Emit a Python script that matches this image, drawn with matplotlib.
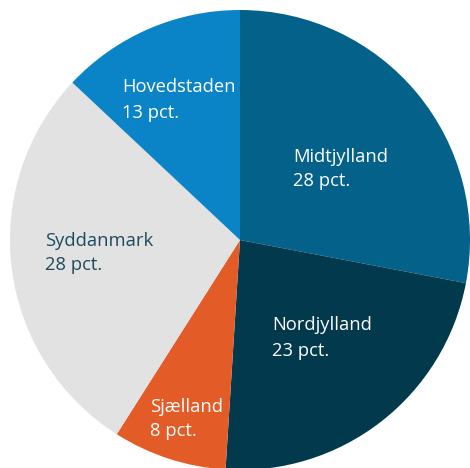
import matplotlib
matplotlib.use('Agg')
from matplotlib import pyplot as plt

# data
regions = ['Midtjylland', 'Nordjylland', 'Sjælland', 'Syddanmark', 'Hovedstaden']
shares = [28, 23, 8, 28, 13]
colors = ['#04618A', '#02394D', '#E35B27', '#E2E2E2', '#0A84C6']
text_colors = ['white', 'white', 'white', '#1E4A5C', 'white']
# label positions in pixels (left x, centre y from top)
label_pos = [(293, 169), (272, 338), (150, 419), (45, 253), (122, 100)]

fig = plt.figure(figsize=(4.70, 4.68), dpi=100)
ax = fig.add_axes([0, 0, 1, 1])

ax.pie(shares, colors=colors, startangle=90, counterclock=False,
       radius=230, center=(240, 468 - 240), frame=True)

for name, val, (x, y), c in zip(regions, shares, label_pos, text_colors):
    ax.text(x, 468 - y, '{}\n{} pct.'.format(name, val), color=c,
            fontsize=13.2, family='Open Sans', ha='left', va='center',
            linespacing=1.5)

ax.set_xlim(0, 470)
ax.set_ylim(0, 468)
ax.set_aspect('equal')
ax.axis('off')

fig.savefig('out.png', dpi=100)
